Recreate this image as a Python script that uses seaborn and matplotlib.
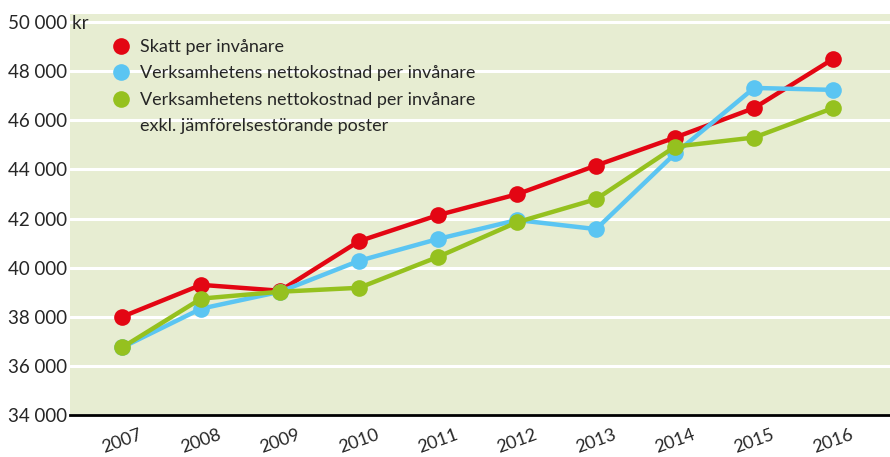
import pandas as pd
import matplotlib
matplotlib.use("Agg")
import matplotlib.pyplot as plt
from matplotlib.lines import Line2D
import seaborn as sns

years = [2007, 2008, 2009, 2010, 2011, 2012, 2013, 2014, 2015, 2016]
skatt = [38000, 39300, 39060, 41080, 42140, 42990, 44160, 45300, 46500, 48500]
nettokostnad = [36750, 38330, 39020, 40280, 41170, 41940, 41570, 44650, 47320, 47240]
nettokostnad_exkl = [36750, 38740, 39020, 39180, 40440, 41850, 42790, 44930, 45300, 46500]

labels = [
    "Skatt per invånare",
    "Verksamhetens nettokostnad per invånare",
    "Verksamhetens nettokostnad per invånare",
    "exkl. jämförelsestörande poster",
]
colors = ["#e30613", "#5bc5f2", "#95c11f"]
yticks = [34000, 36000, 38000, 40000, 42000, 44000, 46000, 48000, 50000]

sns.set_style("white")
plt.rcParams["font.family"] = ["Lato", "DejaVu Sans"]

fig = plt.figure(figsize=(8.9, 4.57), dpi=100)
ax = fig.add_axes([70 / 890, 42 / 457, 820 / 890, 401 / 457])
ax.set_facecolor("#e7edd2")

# one line per series, red at the bottom and green on top
series = [skatt, nettokostnad, nettokostnad_exkl]
for vals, col in zip(series, colors):
    df = pd.DataFrame({"year": years, "value": vals})
    sns.lineplot(data=df, x="year", y="value", ax=ax, color=col, linewidth=3.2,
                 marker="o", markersize=12, markeredgewidth=0, zorder=3)

ax.set_ylim(34000, 50330)
ax.set_xlim(2006.34, 2016.72)
ax.set_yticks(yticks)
ax.set_yticklabels([f"{v:,}".replace(",", " ") + (" kr" if v == 50000 else "") for v in yticks])
ax.set_xticks(years)
ax.set_xticklabels([str(y) for y in years], rotation=20)
for lab in ax.get_yticklabels():
    lab.set_horizontalalignment("left")
    lab.set_x(-62 / 820)
ax.yaxis.grid(True, color="white", linewidth=2.2)
ax.set_axisbelow(True)
ax.tick_params(axis="y", length=0, labelsize=13.5, pad=0)
ax.tick_params(axis="x", direction="out", length=6, width=1.5, color="black", labelsize=13, pad=2)
ax.set_xlabel("")
ax.set_ylabel("")
for s in ["left", "right", "top"]:
    ax.spines[s].set_visible(False)
ax.spines["bottom"].set_color("black")
ax.spines["bottom"].set_linewidth(2)

# legend: markers only, the long label wraps onto a second row without a marker
handles = [Line2D([], [], linestyle="none", marker="o", markersize=12, markeredgewidth=0, color=c) for c in colors]
handles.append(Line2D([], [], linestyle="none", marker=None))
leg = ax.legend(handles, labels, loc="upper left", bbox_to_anchor=(42 / 820, 376 / 401),
                bbox_transform=ax.transAxes, frameon=False, borderaxespad=0, borderpad=0,
                fontsize=13, handletextpad=0.55, labelspacing=0.58, handlelength=1.0)

fig.savefig("out.png", dpi=100)
